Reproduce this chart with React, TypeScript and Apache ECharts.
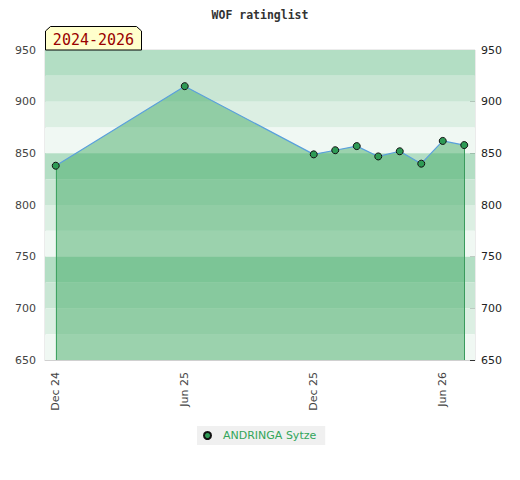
import React, { useEffect, useRef } from "react";
import * as echarts from "echarts";

const titleText = "WOF ratinglist";
const periodLabel = "2024-2026";
const seriesName = "ANDRINGA Sytze";

const months = [
  "Dec 24", "Jan 25", "Feb 25", "Mar 25", "Apr 25", "May 25",
  "Jun 25", "Jul 25", "Aug 25", "Sep 25", "Oct 25", "Nov 25",
  "Dec 25", "Jan 26", "Feb 26", "Mar 26", "Apr 26", "May 26",
  "Jun 26", "Jul 26",
];

const ratings: (number | null)[] = [
  838, null, null, null, null, null,
  915, null, null, null, null, null,
  849, 853, 857, 847, 852, 840,
  862, 858,
];

const yMin = 650;
const yMax = 950;
const yStep = 50;
const bandStep = 25;
const bandColors = ["#b3dec4", "#c9e6d4", "#dcefe3", "#f0f8f3"];

export default function App() {
  const ref = useRef<HTMLDivElement>(null);

  useEffect(() => {
    if (!ref.current) return;
    const chart = echarts.init(ref.current, undefined, { renderer: "svg" });

    const bandData: any[] = [];
    let k = 0;
    for (let top = yMax; top > yMin; top -= bandStep) {
      bandData.push([
        { yAxis: top - bandStep, itemStyle: { color: bandColors[k % bandColors.length], opacity: 1 } },
        { yAxis: top },
      ]);
      k++;
    }

    const firstIdx = ratings.findIndex((v) => v != null);
    let lastIdx = ratings.length - 1;
    while (lastIdx >= 0 && ratings[lastIdx] == null) lastIdx--;

    const font = "DejaVu Sans";

    chart.setOption({
      animation: false,
      title: {
        text: titleText,
        left: "center",
        top: 4,
        textStyle: {
          fontFamily: "DejaVu Sans Mono",
          fontSize: 11.5,
          fontWeight: "bold",
          color: "#333",
        },
      },
      grid: {
        left: 45,
        right: 45,
        top: 50,
        bottom: 120,
        show: true,
        borderColor: "#d8d8d8",
        borderWidth: 1,
        backgroundColor: "transparent",
      },
      legend: {
        left: 197,
        top: 426,
        backgroundColor: "#f0f0f0",
        padding: [4, 9, 4, 6],
        icon: "circle",
        itemWidth: 7,
        itemHeight: 7,
        textStyle: {
          fontFamily: font,
          fontSize: 11,
          color: "#33a55a",
          padding: [0, 0, 0, 7],
        },
        data: [seriesName],
      },
      xAxis: {
        type: "category",
        data: months,
        boundaryGap: true,
        axisLine: { show: true, lineStyle: { color: "#d0d0d0" } },
        axisTick: { show: false },
        splitLine: { show: false },
        axisLabel: {
          interval: 5,
          rotate: 90,
          margin: 12,
          fontFamily: font,
          fontSize: 11,
          color: "#444",
        },
      },
      yAxis: [
        {
          type: "value",
          min: yMin,
          max: yMax,
          interval: yStep,
          position: "left",
          axisLine: { show: true, lineStyle: { color: "#d0d0d0" } },
          axisTick: { show: false },
          splitLine: { show: false },
          axisLabel: { margin: 9, fontFamily: font, fontSize: 11, color: "#444" },
        },
        {
          type: "value",
          min: yMin,
          max: yMax,
          interval: yStep,
          position: "right",
          axisLine: { show: false },
          axisTick: { show: true, inside: true, length: 5, lineStyle: { color: "#333" } },
          minorTick: { show: true, splitNumber: 5, length: 3, lineStyle: { color: "#333" } },
          splitLine: { show: false },
          axisLabel: { margin: 6, fontFamily: font, fontSize: 11, color: "#222" },
        },
      ],
      series: [
        {
          type: "line",
          name: "bands",
          data: [],
          silent: true,
          z: 0,
          markArea: { silent: true, data: bandData },
        },
        {
          type: "line",
          name: seriesName,
          data: ratings,
          connectNulls: true,
          z: 5,
          symbol: "circle",
          symbolSize: 7,
          lineStyle: { color: "#5aa0dc", width: 1.2 },
          itemStyle: { color: "#2e9a55", borderColor: "#111", borderWidth: 1 },
          areaStyle: { color: "#46ac67", opacity: 0.5 },
          markLine: {
            silent: true,
            symbol: "none",
            label: { show: false },
            lineStyle: { color: "#3a9a5c", width: 1, type: "solid" },
            data: [
              [
                { xAxis: months[firstIdx], yAxis: yMin },
                { xAxis: months[firstIdx], yAxis: ratings[firstIdx] },
              ],
              [
                { xAxis: months[lastIdx], yAxis: yMin },
                { xAxis: months[lastIdx], yAxis: ratings[lastIdx] },
              ],
            ],
          },
        },
      ],
      graphic: [
        {
          type: "polygon",
          z: 100,
          shape: {
            points: [
              [45.5, 50],
              [45.5, 31],
              [50.5, 26.5],
              [136.5, 26.5],
              [141.5, 31],
              [141.5, 50],
            ],
          },
          style: { fill: "#ffffcc", stroke: "#000", lineWidth: 1 },
        },
        {
          type: "text",
          z: 101,
          x: 93.5,
          y: 40,
          style: {
            text: periodLabel,
            fill: "#990000",
            font: "15px 'DejaVu Sans Mono'",
            align: "center",
            verticalAlign: "middle",
          },
        },
      ],
    });

    return () => chart.dispose();
  }, []);

  return (
    <div
      ref={ref}
      style={{ position: "fixed", left: 0, top: 0, width: 520, height: 480, background: "#fff" }}
    />
  );
}
